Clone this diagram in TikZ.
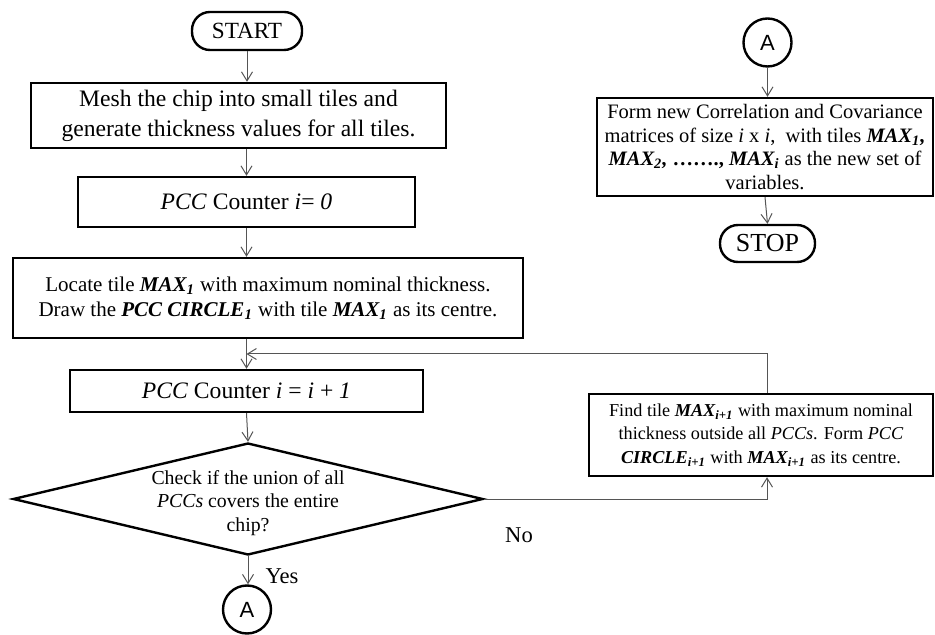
\documentclass[tikz,border=0pt]{standalone}
\usepackage{fontspec}
\setmainfont{Liberation Serif}
\newfontfamily\labelsans{Liberation Sans}
\usetikzlibrary{calc,arrows.meta,shapes.geometric}
\definecolor{ink}{HTML}{000000}
\definecolor{flow}{HTML}{555555}
\newcommand{\bfit}[1]{\textbf{\textit{#1}}}
\newcommand{\fs}[2]{\fontsize{#1}{#2}\selectfont}
\tikzset{
  box/.style={draw=ink, line width=1.2pt, align=center, inner sep=1pt},
  term/.style={box, rounded corners=9pt},
  conn/.style={circle, draw=ink, line width=1.2pt, minimum size=24pt, inner sep=0pt, font=\labelsans\fs{11}{13}},
  decision/.style={diamond, draw=ink, line width=1.2pt, inner sep=0pt},
  arr/.style={draw=flow, line width=0.5pt, -{Straight Barb[length=4.5pt,width=5.5pt]}},
  lbl/.style={font=\fs{11.3}{13}}
}

\begin{document}
\begin{tikzpicture}[x=0.5pt, y=-0.5pt]
  \useasboundingbox (0,0) rectangle (935,635);

  % left column
  \node[term, minimum width=55pt, minimum height=19pt, font=\fs{11.6}{14}] (start) at (247,31) {START};
  \node[box, minimum width=207.5pt, minimum height=32.5pt, font=\fs{11.8}{15}] (mesh) at (238.5,115.5)
    {Mesh the chip into small tiles and\\generate thickness values for all tiles.};
  \node[box, minimum width=168.5pt, minimum height=25pt, font=\fs{11.8}{14}] (counter) at (246.5,202)
    {\textit{PCC} Counter \textit{i}= \textit{0}};
  \node[box, minimum width=255pt, minimum height=40pt, font=\fs{10.5}{12.5}] (locate) at (268,298)
    {Locate tile \bfit{MAX\textsubscript{1}} with maximum nominal thickness.\\
     Draw the \bfit{PCC CIRCLE\textsubscript{1}} with tile \bfit{MAX\textsubscript{1}} as its centre.};
  \node[box, minimum width=176.5pt, minimum height=21pt, font=\fs{11.8}{14}] (incr) at (246.5,391)
    {\textit{PCC} Counter \textit{i} = \textit{i} + \textit{1}};
  \node[decision, minimum width=235pt, minimum height=56pt] (check) at (248,499) {};
  \node[align=center, font=\fs{9.9}{11.7}] (checktext) at ([yshift=-2pt]check.center)
    {Check if the union of all\\\textit{PCCs} covers the entire\\chip?};
  \node[conn] (conA) at (247,609.5) {A};
  \node[lbl] (yes) at (282,576) {Yes};
  \node[lbl] (no) at (519,535) {No};

  % right column
  \node[box, minimum width=172pt, minimum height=41pt, font=\fs{9.1}{11.75}] (find) at (761,435)
    {Find tile \bfit{MAX\textsubscript{i+1}} with maximum nominal\\
     thickness outside all \textit{PCCs}. Form \textit{PCC}\\
     \bfit{CIRCLE\textsubscript{i+1}} with \bfit{MAX\textsubscript{i+1}} as its centre.};
  \node[conn] (conA2) at (767.5,42.5) {A};
  \node[box, minimum width=168pt, minimum height=49pt, font=\fs{10.25}{11.75}] (form) at (765,147)
    {Form new Correlation and Covariance\\
     matrices of size \textit{i} x \textit{i},~ with tiles \bfit{MAX\textsubscript{1},}\\
     \bfit{MAX\textsubscript{2},} \textbf{…….,} \bfit{MAX\textsubscript{i}} as the new set of\\
     variables.};
  \node[term, minimum width=47.5pt, minimum height=18.5pt, font=\fs{13}{15}] (stop) at (767.5,243.5) {STOP};

  % connectors
  \draw[arr] (start) -- (start |- mesh.north);
  \draw[arr] (counter.north |- mesh.south) -- (counter.north);
  \draw[arr] (counter.south) -- (counter.south |- locate.north);
  \draw[arr] (incr.north |- locate.south) -- (incr.north);
  \draw[arr] (incr.south) -- (check.north);
  \draw[arr] (check.south) -- (check.south |- conA.north);
  \draw[arr] (check.east) -| ([xshift=3pt]find.south);
  \coordinate (join) at ($(locate.south -| incr.north)!0.5!(incr.north)$);
  \draw[arr] ([xshift=3pt]find.north) |- (join);
  \draw[arr] (conA2.south) -- (conA2.south |- form.north);
  \draw[arr] (form.south) -- (stop.north);
\end{tikzpicture}
\end{document}
